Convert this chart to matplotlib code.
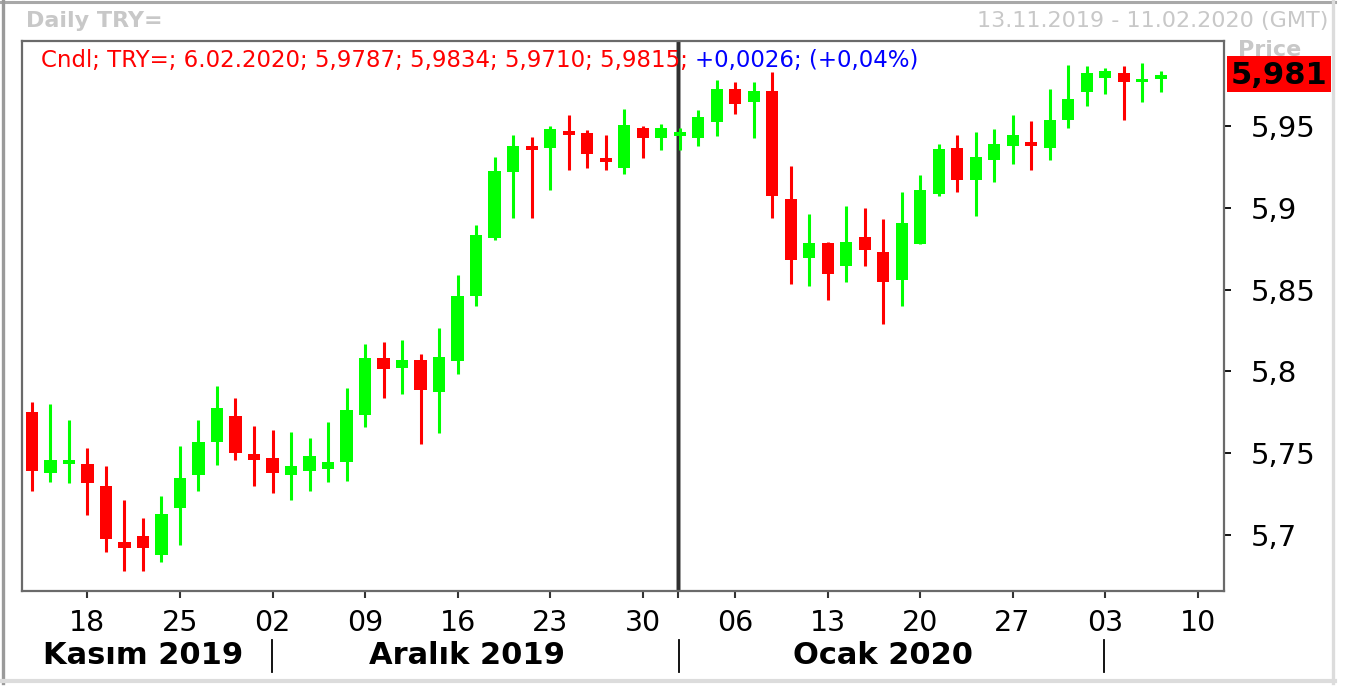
import numpy as np
import pandas as pd
import matplotlib
matplotlib.use('Agg')
import matplotlib.pyplot as plt
from matplotlib.lines import Line2D
from matplotlib.patches import Rectangle
from matplotlib.ticker import FuncFormatter

# Daily USD/TRY candles, 13.11.2019 - 06.02.2020
dates = pd.bdate_range('2019-11-13', '2020-02-06')
opens = [5.7752, 5.7379, 5.7434, 5.7434, 5.7300, 5.6957, 5.6994, 5.6878, 5.7165, 5.7367,
         5.7568, 5.7727, 5.7495, 5.7471, 5.7367, 5.7391, 5.7403, 5.7446, 5.7733, 5.8082,
         5.8021, 5.8070, 5.7874, 5.8064, 5.8461, 5.8815, 5.9219, 5.9378, 5.9366, 5.9463,
         5.9457, 5.9304, 5.9243, 5.9488, 5.9427, 5.9439, 5.9427, 5.9524, 5.9726, 5.9647,
         5.9714, 5.9054, 5.8693, 5.8785, 5.8644, 5.8822, 5.8730, 5.8559, 5.8779, 5.9084,
         5.9366, 5.9170, 5.9292, 5.9378, 5.9402, 5.9366, 5.9537, 5.9708, 5.9793, 5.9824,
         5.9769, 5.9787]
highs = [5.7813, 5.7801, 5.7703, 5.7532, 5.7422, 5.7214, 5.7104, 5.7238, 5.7544, 5.7703,
         5.7911, 5.7837, 5.7666, 5.7642, 5.7630, 5.7593, 5.7691, 5.7899, 5.8167, 5.8180,
         5.8192, 5.8106, 5.8265, 5.8589, 5.8895, 5.9311, 5.9445, 5.9433, 5.9500, 5.9567,
         5.9476, 5.9445, 5.9604, 5.9500, 5.9512, 5.9488, 5.9598, 5.9781, 5.9769, 5.9769,
         5.9830, 5.9256, 5.8962, 5.8791, 5.9011, 5.8999, 5.8932, 5.9097, 5.9200, 5.9390,
         5.9445, 5.9463, 5.9482, 5.9567, 5.9531, 5.9726, 5.9873, 5.9867, 5.9855, 5.9867,
         5.9885, 5.9834]
lows = [5.7269, 5.7324, 5.7318, 5.7122, 5.6896, 5.6780, 5.6780, 5.6835, 5.6939, 5.7269,
        5.7428, 5.7458, 5.7300, 5.7257, 5.7214, 5.7269, 5.7324, 5.7330, 5.7660, 5.7837,
        5.7862, 5.7556, 5.7623, 5.7984, 5.8400, 5.8803, 5.8938, 5.8938, 5.9109, 5.9231,
        5.9243, 5.9231, 5.9207, 5.9304, 5.9353, 5.9353, 5.9378, 5.9439, 5.9573, 5.9427,
        5.8938, 5.8534, 5.8522, 5.8436, 5.8546, 5.8644, 5.8290, 5.8400, 5.8779, 5.9072,
        5.9097, 5.8950, 5.9158, 5.9268, 5.9231, 5.9292, 5.9488, 5.9622, 5.9696, 5.9537,
        5.9647, 5.9710]
closes = [5.7391, 5.7458, 5.7458, 5.7318, 5.6976, 5.6921, 5.6921, 5.7128, 5.7348, 5.7568,
          5.7776, 5.7501, 5.7458, 5.7379, 5.7422, 5.7483, 5.7446, 5.7764, 5.8082, 5.8015,
          5.8070, 5.7886, 5.8088, 5.8461, 5.8834, 5.9225, 5.9378, 5.9353, 5.9482, 5.9451,
          5.9329, 5.9280, 5.9506, 5.9427, 5.9488, 5.9463, 5.9555, 5.9726, 5.9634, 5.9714,
          5.9072, 5.8681, 5.8785, 5.8595, 5.8791, 5.8742, 5.8546, 5.8907, 5.9109, 5.9359,
          5.9170, 5.9311, 5.9390, 5.9445, 5.9378, 5.9537, 5.9665, 5.9824, 5.9836, 5.9769,
          5.9789, 5.9815]

month_names = ['Kasım 2019', 'Aralık 2019', 'Ocak 2020']
y_ticks = [5.70, 5.75, 5.80, 5.85, 5.90, 5.95]

header_left = 'Daily TRY='
header_right = '13.11.2019 - 11.02.2020 (GMT)'
info_red = 'Cndl; TRY=; 6.02.2020; 5,9787; 5,9834; 5,9710; 5,9815; '
info_blue = '+0,0026; (+0,04%)'
last_price = '5,981'

opens = np.array(opens)
highs = np.array(highs)
lows = np.array(lows)
closes = np.array(closes)

# axis runs on business days, a few past the last candle
axis_dates = pd.bdate_range('2019-11-13', '2020-02-11')
x = np.arange(len(dates))

W, H = 1349, 686
fig = plt.figure(figsize=(W / 100, H / 100), dpi=100)
fig.patch.set_facecolor('white')
ax = fig.add_axes([22 / W, (H - 591) / H, 1202 / W, 550 / H])

green, red = '#00ff00', '#ff0000'
colors = np.where(closes >= opens, green, red)

# wicks and bodies
ax.vlines(x, lows, highs, colors=colors, lw=2.2, zorder=3)
min_h = 0.0022
mid = (opens + closes) / 2
body_h = np.maximum(np.abs(closes - opens), min_h)
ax.bar(x, body_h, bottom=mid - body_h / 2, width=0.65, color=colors, lw=0, zorder=4)

# year boundary
jan1 = list(axis_dates).index(pd.Timestamp('2020-01-01'))
ax.axvline(jan1 - 0.08, color='#b0b0b0', lw=3.6, zorder=1)
ax.axvline(jan1 - 0.08, color='#303030', lw=2.4, zorder=2)

ax.set_xlim(-0.54, 64.43)
ax.set_ylim(5.6658, 6.0020)

# weekly ticks on Mondays
mondays = [i for i, d in enumerate(axis_dates) if d.weekday() == 0]
ax.set_xticks(mondays)
ax.set_xticklabels([axis_dates[i].strftime('%d') for i in mondays])
ax.set_xticks([jan1 - 0.08], minor=True)
ax.tick_params(axis='x', which='major', direction='out', length=5, width=1.5,
               color='#333333', pad=8, labelsize=20.5)
ax.tick_params(axis='x', which='minor', direction='out', length=5, width=1.5,
               color='#333333')

ax.yaxis.tick_right()
ax.set_yticks(y_ticks)
ax.yaxis.set_major_formatter(FuncFormatter(lambda v, p: f'{v:g}'.replace('.', ',')))
ax.tick_params(axis='y', direction='out', length=5, width=1.3, color='black',
               pad=14, labelsize=21)

for s in ax.spines.values():
    s.set_color('#6a6a6a')
    s.set_linewidth(1.6)

# month labels and separators under the axis
month_keys = [d.strftime('%Y-%m') for d in axis_dates]
seen = []
for k in month_keys:
    if k not in seen:
        seen.append(k)
trans = ax.get_xaxis_transform()
for j, k in enumerate(seen):
    idx = [i for i, m in enumerate(month_keys) if m == k]
    if j > 0:
        ax.add_line(Line2D([idx[0] - 0.05, idx[0] - 0.05], [-0.089, -0.147], transform=trans,
                           color='black', lw=1.3, clip_on=False))
    if j < len(month_names):
        ax.text((idx[0] + idx[-1]) / 2, -0.117, month_names[j], transform=trans,
                ha='center', va='center', fontsize=22, fontweight='bold', clip_on=False)

# header texts
fig.text(26 / W, 1 - 21 / H, header_left, ha='left', va='center', fontsize=16,
         fontweight='bold', color='#c8c8c8')
fig.text(1328 / W, 1 - 21 / H, header_right, ha='right', va='center', fontsize=16,
         color='#c8c8c8')

t_red = ax.text(41 / W, 1 - 60 / H, info_red, transform=fig.transFigure, ha='left',
                va='center', fontsize=16.5, color='#ff0000', zorder=6)
fig.canvas.draw()
bb = t_red.get_window_extent(renderer=fig.canvas.get_renderer())
ax.text(bb.x1 / W, 1 - 60 / H, info_blue, transform=fig.transFigure, ha='left',
        va='center', fontsize=16.5, color='#0000ff', zorder=6)

# last price box on the right, with the greyed "Price" label just behind it
fig.text(1270 / W, 1 - 50 / H, 'Price', ha='center', va='center', fontsize=16,
         fontweight='bold', color='#c8c8c8', zorder=1)
fig.add_artist(Rectangle((1227 / W, 1 - 92 / H), 104 / W, 36 / H, transform=fig.transFigure,
                         facecolor='#ff0000', edgecolor='none', zorder=2))
fig.text(1279 / W, 1 - 75 / H, last_price, ha='center', va='center', fontsize=22,
         fontweight='bold', color='black', zorder=3)

# outer panel border
def fline(x0, y0, x1, y1, c, lw):
    fig.add_artist(Line2D([x0 / W, x1 / W], [1 - y0 / H, 1 - y1 / H],
                          transform=fig.transFigure, color=c, lw=lw))

fline(0, 1.5, 1335, 1.5, '#a8a8a8', 2.2)
fline(3, 0, 3, 683, '#9a9a9a', 2.4)
fline(1333, 0, 1333, 683, '#dcdcdc', 2.4)
fline(0, 681, 1335, 681, '#dcdcdc', 3.0)

fig.savefig('out.png', dpi=100)
